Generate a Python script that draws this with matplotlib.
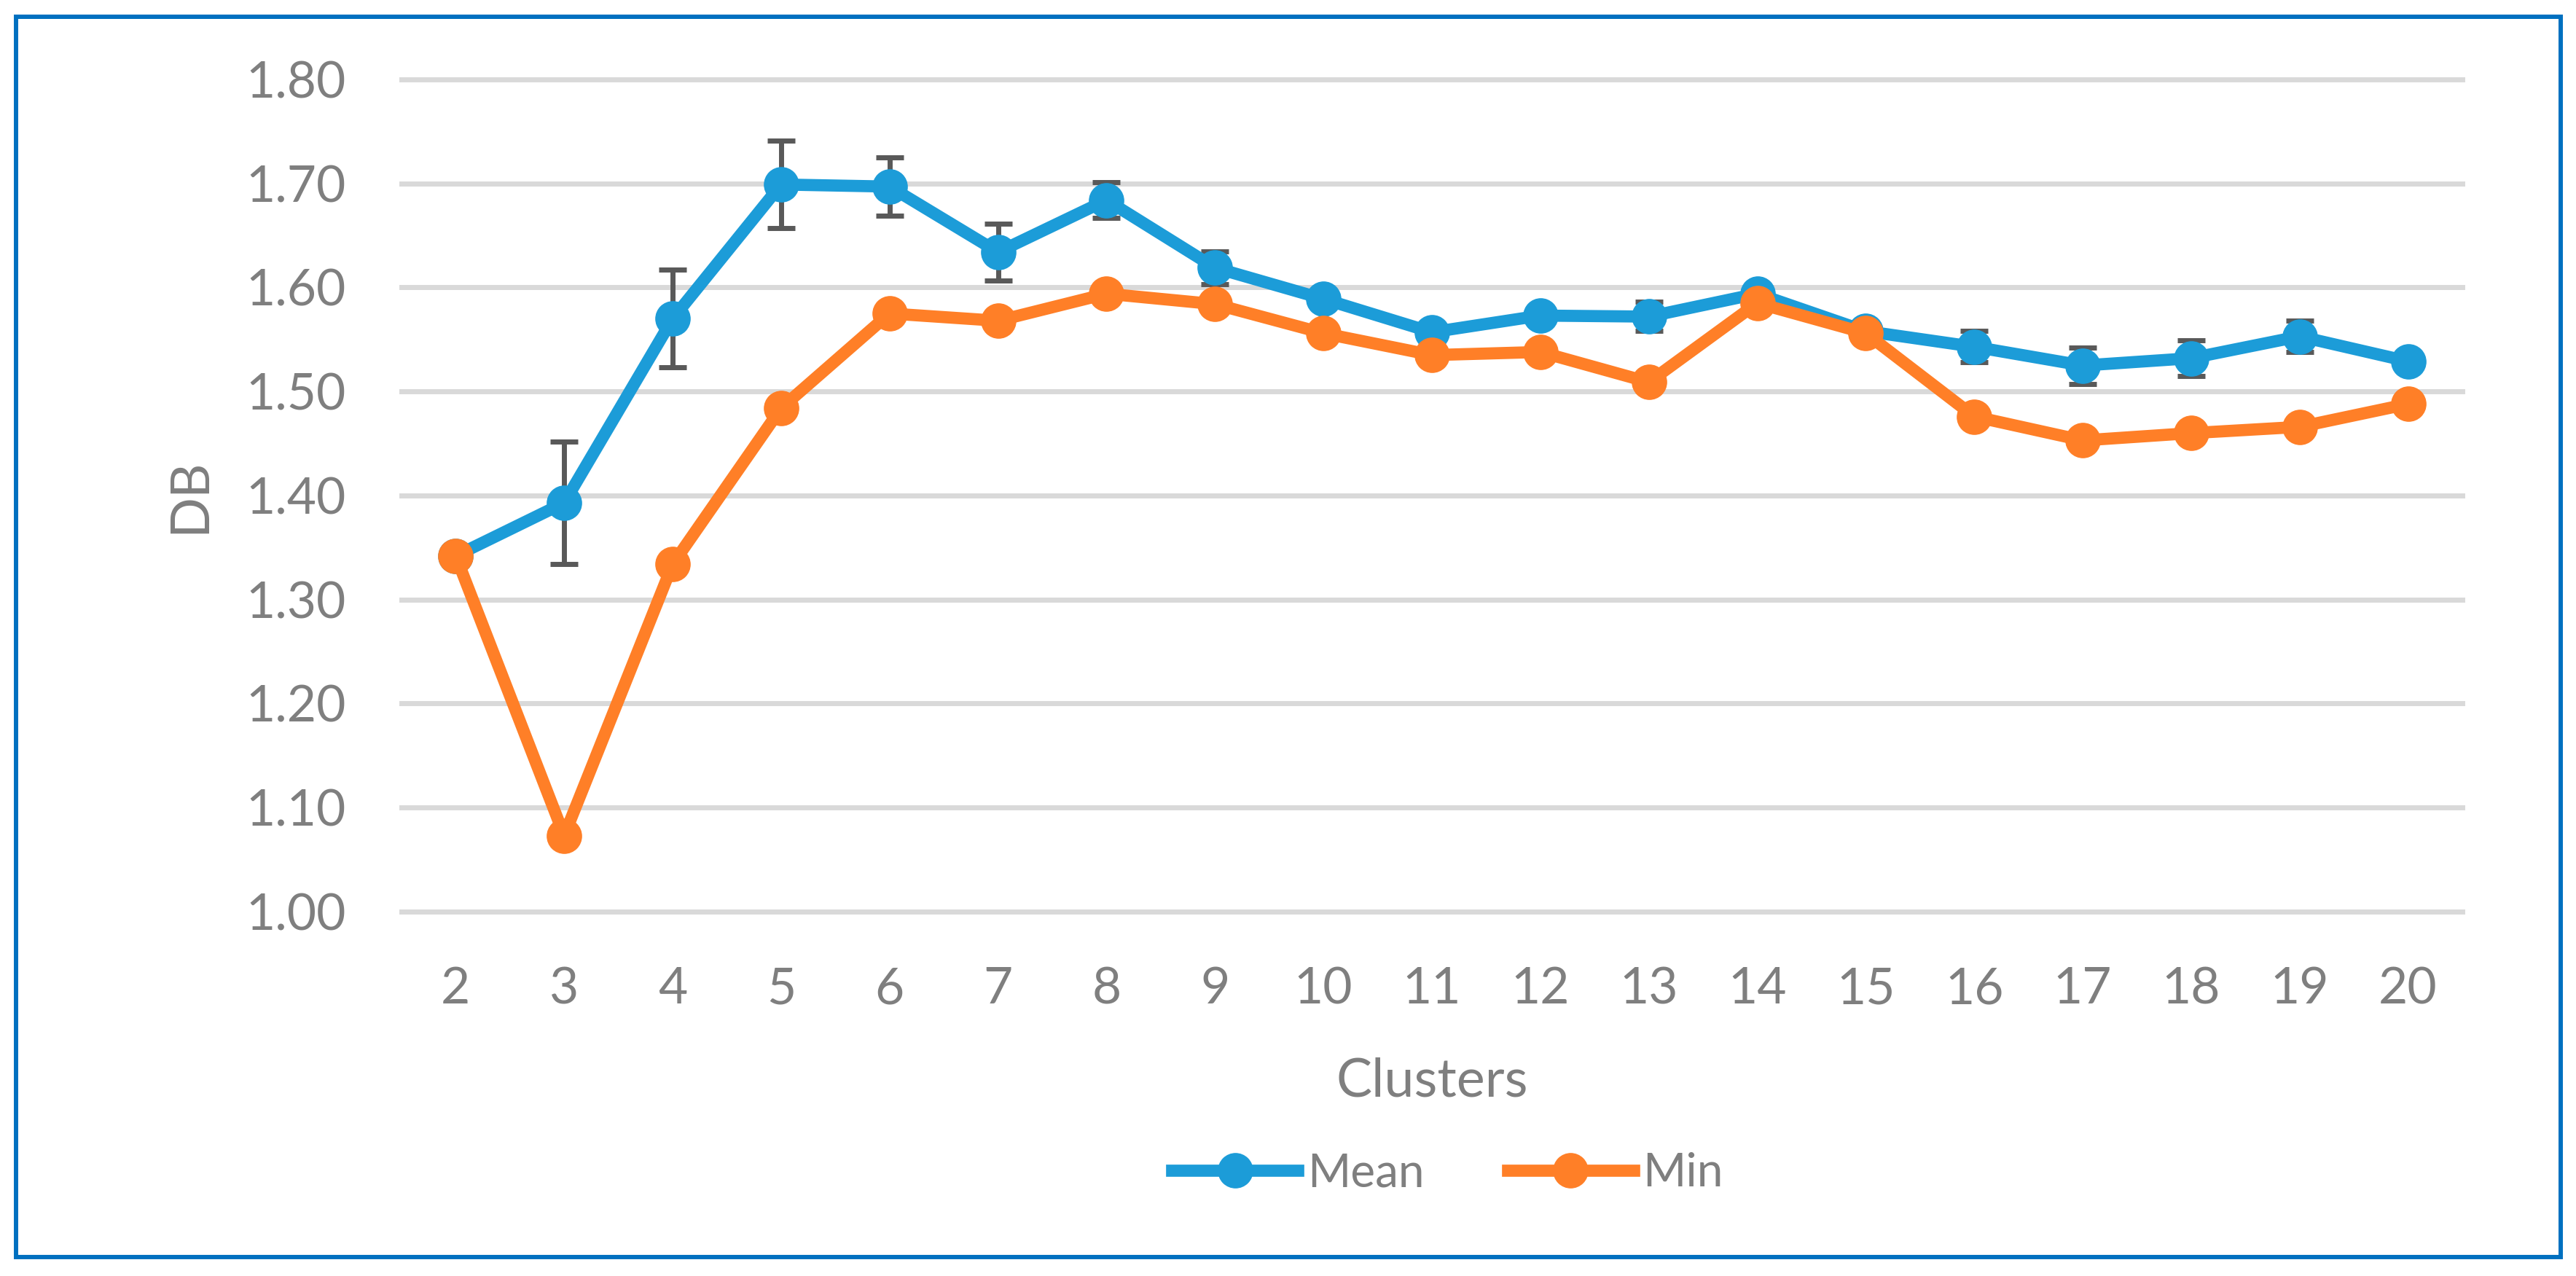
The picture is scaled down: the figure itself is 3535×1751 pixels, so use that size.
import matplotlib
matplotlib.use("Agg")
import matplotlib.pyplot as plt
import numpy as np
from matplotlib.patches import Rectangle
from matplotlib.ticker import FormatStrFormatter

# DB index per number of clusters
clusters = list(range(2, 21))
db_mean = [1.342, 1.393, 1.570, 1.699, 1.697, 1.634, 1.684, 1.619, 1.589, 1.557,
           1.573, 1.572, 1.594, 1.558, 1.543, 1.525, 1.532, 1.553, 1.529]
db_mean_err = [0.0, 0.059, 0.047, 0.042, 0.028, 0.027, 0.017, 0.016, 0.006, 0.006,
               0.006, 0.014, 0.008, 0.008, 0.015, 0.0175, 0.017, 0.015, 0.006]
db_min = [1.342, 1.073, 1.334, 1.484, 1.575, 1.568, 1.594, 1.584, 1.556, 1.535,
          1.538, 1.509, 1.585, 1.556, 1.476, 1.453, 1.460, 1.466, 1.488]

blue = "#1C9CD8"
orange = "#FF7F27"
gray = "#7F7F7F"

plt.rcParams['font.family'] = ['Lato', 'DejaVu Sans']

W, H = 3535, 1751
fig = plt.figure(figsize=(W / 100, H / 100), dpi=100)
ax = fig.add_axes([551 / W, 1 - 1251 / H, (3379 - 551) / W, (1251 - 109) / H])

ax.errorbar(clusters, db_mean, yerr=db_mean_err, fmt='none', ecolor='#595959',
            elinewidth=5, capsize=13.5, capthick=5, zorder=2)
l_mean, = ax.plot(clusters, db_mean, '-o', color=blue, lw=12, ms=34, zorder=3, label='Mean')
l_min, = ax.plot(clusters, db_min, '-o', color=orange, lw=12, ms=34, zorder=4, label='Min')

ax.set_xlim(1.5, 20.5)
ax.set_ylim(1.0, 1.8)
ax.set_xticks(clusters)
ax.set_yticks(np.arange(1.0, 1.81, 0.1))
ax.yaxis.set_major_formatter(FormatStrFormatter('%.2f'))
ax.tick_params(length=0, labelsize=50, labelcolor=gray)
ax.tick_params(axis='x', pad=54)
ax.tick_params(axis='y', pad=55)

ax.yaxis.grid(True, color='#D9D9D9', lw=5)
ax.set_axisbelow(True)
for gl in ax.get_ygridlines():
    gl.set_clip_on(False)
for s in ax.spines.values():
    s.set_visible(False)

ax.text(0.5, -0.2224, 'Clusters', transform=ax.transAxes, ha='center', va='baseline',
        fontsize=53, color=gray)
ax.text(-0.1025, 0.5, 'DB', transform=ax.transAxes, ha='center', va='center',
        rotation=90, fontsize=53, color=gray)

fig.legend(handles=[l_mean, l_min], loc='center', bbox_to_anchor=(0.562, 0.0805),
           ncol=2, frameon=False, fontsize=46, labelcolor=gray, handlelength=2.7,
           handletextpad=0.2, columnspacing=1.8)

fig.patches.append(Rectangle((22 / W, 1 - 1725 / H), (3514 - 22) / W, (1725 - 23) / H,
                             transform=fig.transFigure, fill=False, ec='#0070C0', lw=4.3))

fig.savefig('out.png', dpi=100)
